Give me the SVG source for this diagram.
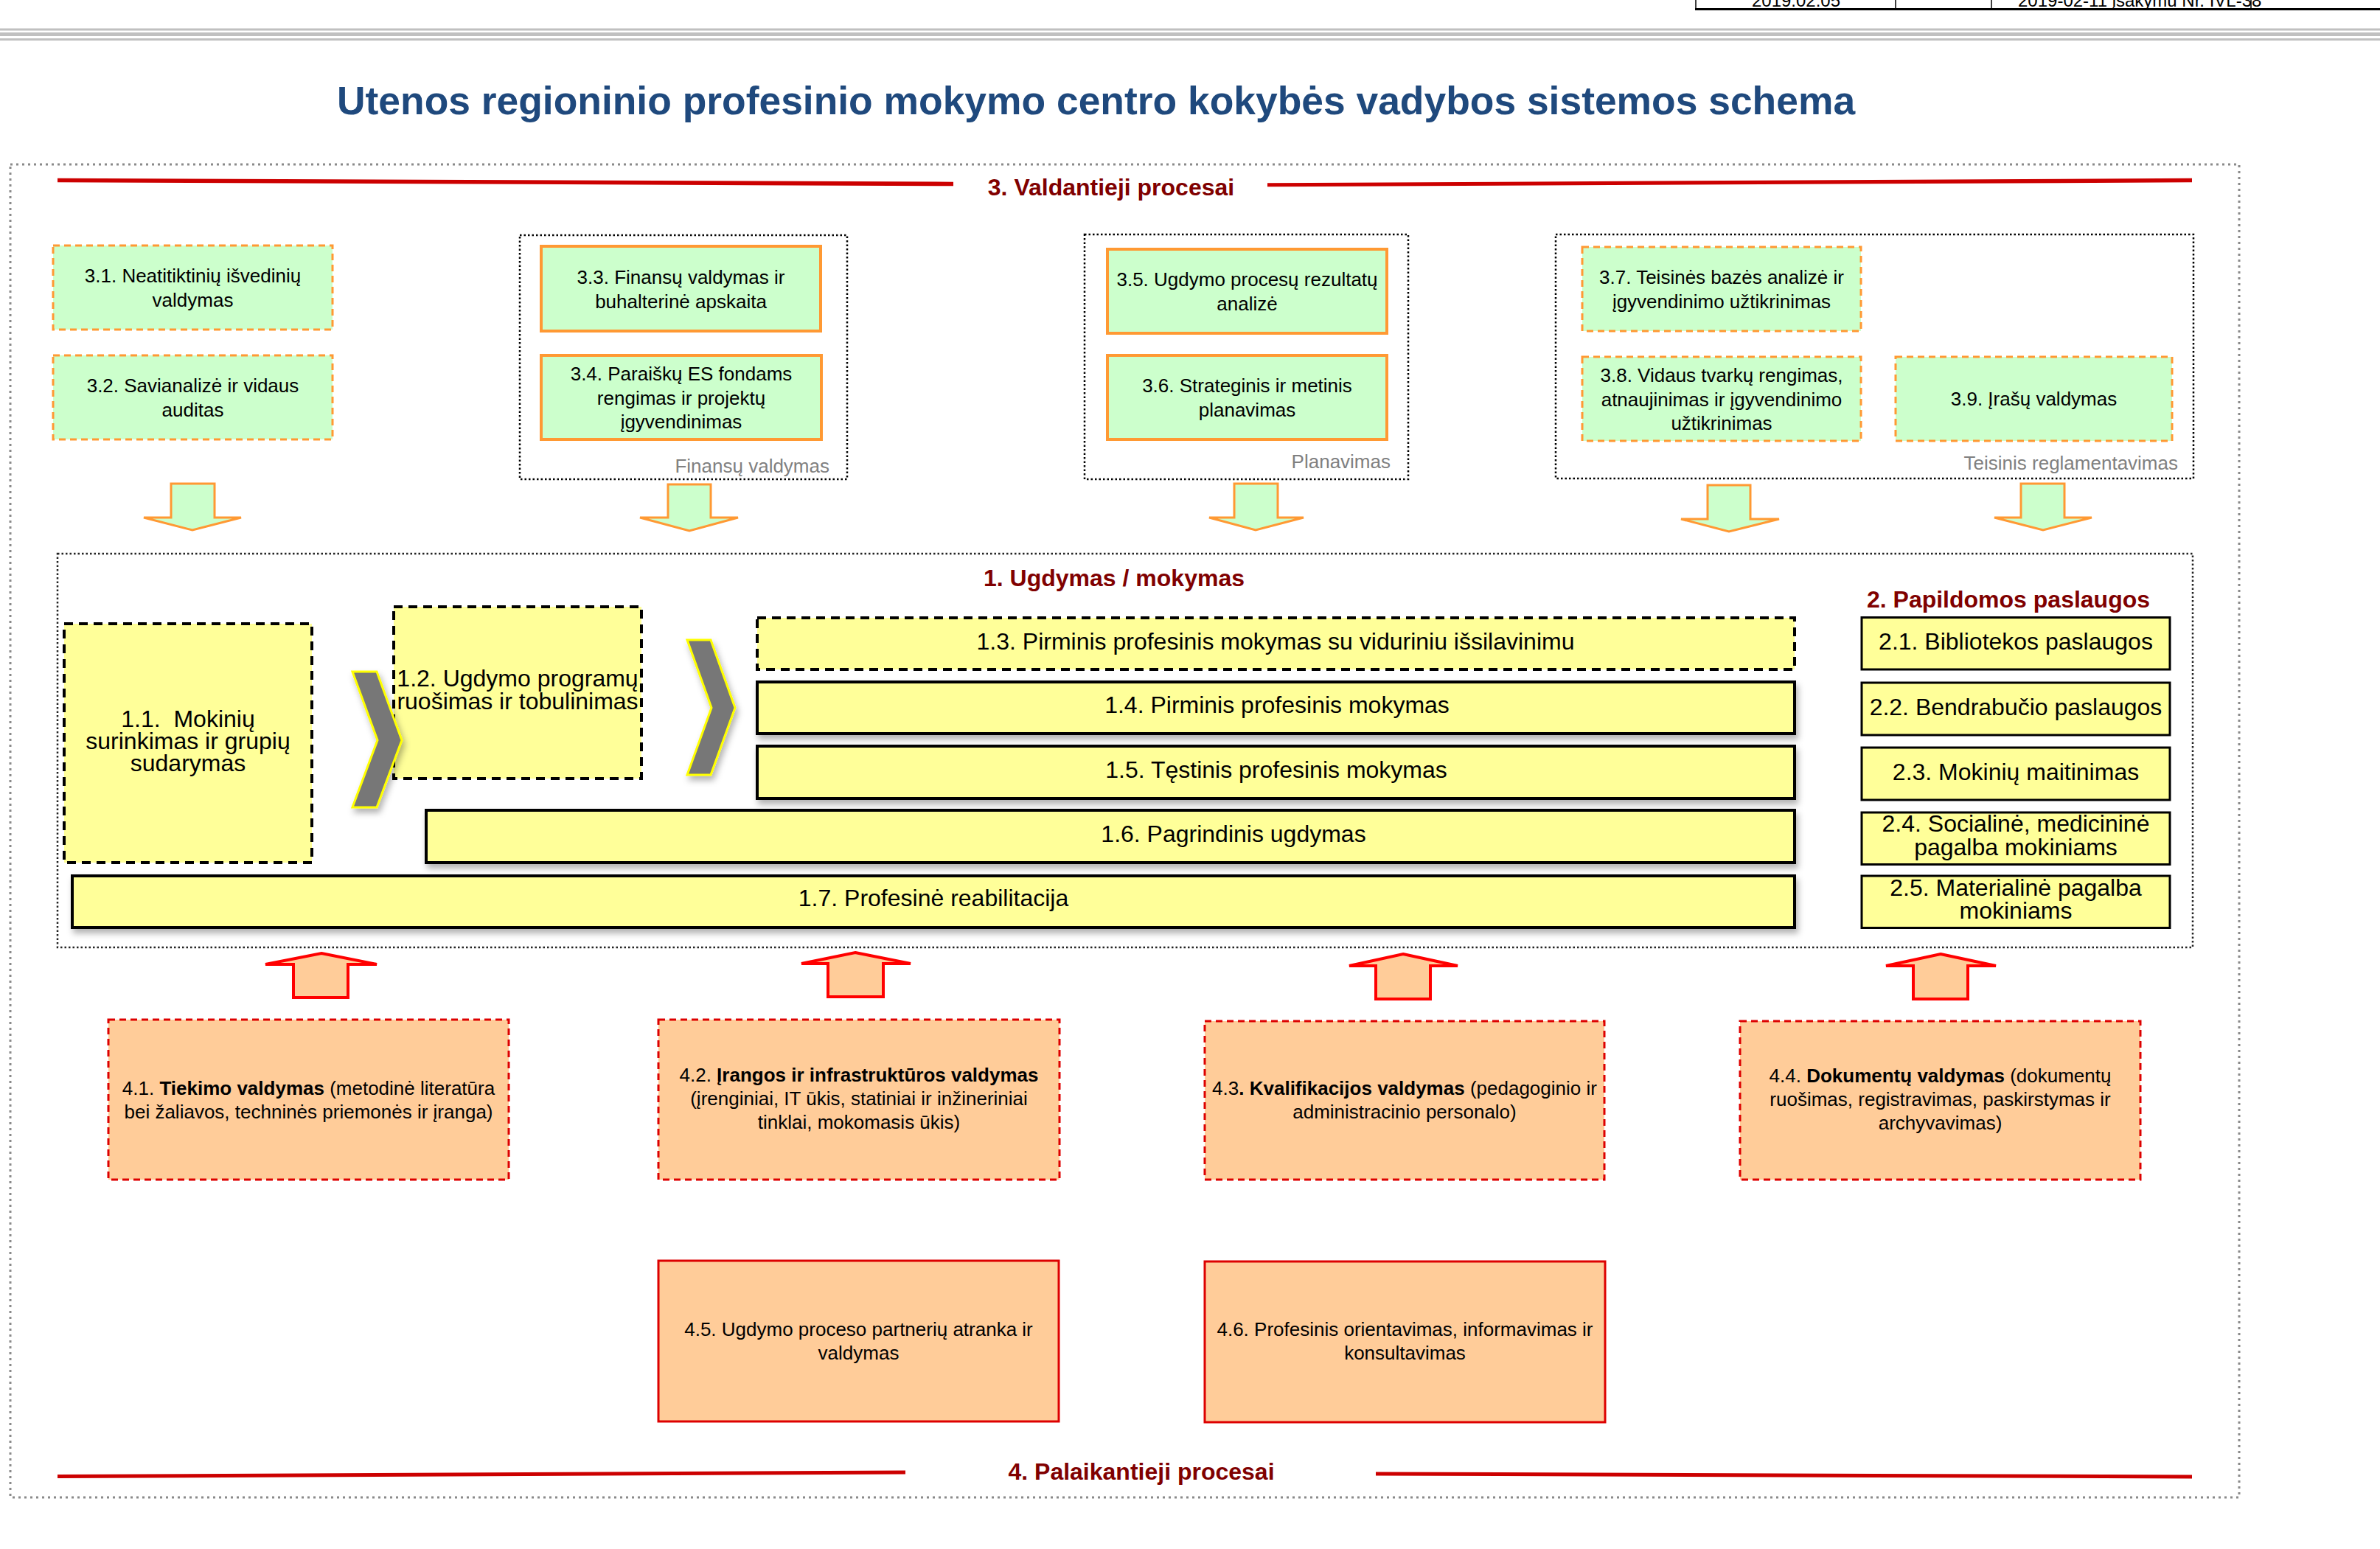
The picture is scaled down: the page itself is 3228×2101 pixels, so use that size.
<svg xmlns="http://www.w3.org/2000/svg" width="3228" height="2101" viewBox="0 0 3228 2101">
<style>
text{font-family:"Liberation Sans",Arial,sans-serif;}
.t26{font-size:26px;fill:#000;text-anchor:middle;}
.t32{font-size:32px;fill:#000;text-anchor:middle;}
.hdr{font-size:32px;font-weight:bold;fill:#800000;text-anchor:middle;}
.glabel{font-size:26px;fill:#808080;text-anchor:end;}
.b{font-weight:bold;}
.gdash{fill:#ccffcc;stroke:#ff9933;stroke-width:3;stroke-dasharray:9 6;}
.gsolid{fill:#ccffcc;stroke:#ff9933;stroke-width:4;}
.grp{fill:none;stroke:#000;stroke-width:2.5;stroke-dasharray:2.5 3;}
.ydash{fill:#ffff99;stroke:#000;stroke-width:4;stroke-dasharray:12 8;}
.ysolid{fill:#ffff99;stroke:#000;stroke-width:4;}
.ysmall{fill:#ffff99;stroke:#000;stroke-width:3;}
.odash{fill:#ffcc99;stroke:#dd0000;stroke-width:3;stroke-dasharray:9 6;}
.osolid{fill:#ffcc99;stroke:#dd0000;stroke-width:3;}
.garrow{fill:#ccffcc;stroke:#ff9933;stroke-width:3;stroke-linejoin:miter;}
.rarrow{fill:#ffcc99;stroke:#ff0000;stroke-width:4;stroke-linejoin:miter;}
.chev{fill:#777777;stroke:#ffff00;stroke-width:3;}
.redline{fill:#cc0000;}
</style>
<defs>
<filter id="sh" x="-30%" y="-30%" width="160%" height="160%">
<feDropShadow dx="3" dy="6" stdDeviation="4" flood-color="#000" flood-opacity="0.3"/>
</filter>
</defs>
<rect width="3228" height="2101" fill="#ffffff"/>

<!-- header table fragment -->
<g id="header-table">
<line x1="2300" y1="0" x2="2300" y2="12" stroke="#000" stroke-width="1.5"/>
<line x1="2571" y1="0" x2="2571" y2="12" stroke="#000" stroke-width="1.5"/>
<line x1="2701" y1="0" x2="2701" y2="12" stroke="#000" stroke-width="1.5"/>
<line x1="3053" y1="0" x2="3053" y2="12" stroke="#000" stroke-width="1.5"/>
<line x1="2299" y1="12.5" x2="3228" y2="12.5" stroke="#000" stroke-width="3"/>
<text x="2436" y="9" style="font-size:24px;text-anchor:middle">2019.02.05</text>
<text x="2737" y="9" style="font-size:24px">2019-02-11 įsakymu Nr. IVL-38</text>
</g>
<g id="header-rules">
<rect x="0" y="38.5" width="3228" height="3" fill="#c0c0c0"/>
<rect x="0" y="44" width="3228" height="5" fill="#c0c0c0"/>
<rect x="0" y="52" width="3228" height="3" fill="#c0c0c0"/>
</g>

<text id="title" x="457" y="155" style="font-size:53.4px;font-weight:bold;fill:#1f497d">Utenos regioninio profesinio mokymo centro kokybės vadybos sistemos schema</text>

<!-- outer frame -->
<rect id="frame" x="14" y="223" width="3023" height="1808" fill="none" stroke="#8a8a8a" stroke-width="3" stroke-dasharray="3 5"/>

<!-- section 3 header -->
<g id="sec3-header">
<polygon class="redline" points="78,241.7 1293,246.7 1293,252.3 78,247.3"/>
<polygon class="redline" points="1719,248.3 2973,241.7 2973,247.3 1719,253.3"/>
<text class="hdr" x="1507" y="265">3. Valdantieji procesai</text>
</g>

<!-- group boxes -->
<g id="grp-finansu">
<rect class="grp" x="705" y="319" width="444" height="331"/>
<text class="glabel" x="1125" y="641">Finansų valdymas</text>
</g>
<g id="grp-planavimas">
<rect class="grp" x="1471" y="318" width="439" height="332"/>
<text class="glabel" x="1886" y="635">Planavimas</text>
</g>
<g id="grp-teisinis">
<rect class="grp" x="2110" y="318" width="865" height="331"/>
<text class="glabel" x="2954" y="637">Teisinis reglamentavimas</text>
</g>

<g id="n3-1"><rect class="gdash" x="72" y="333" width="379" height="114"/>
<text class="t26" x="261.5" y="383">3.1. Neatitiktinių išvedinių<tspan x="261.5" dy="32.5">valdymas</tspan></text></g>
<g id="n3-2"><rect class="gdash" x="72" y="482" width="379" height="114"/>
<text class="t26" x="261.5" y="532">3.2. Savianalizė ir vidaus<tspan x="261.5" dy="32.5">auditas</tspan></text></g>
<g id="n3-3"><rect class="gsolid" x="734" y="334" width="379" height="115"/>
<text class="t26" x="923.5" y="385">3.3. Finansų valdymas ir<tspan x="923.5" dy="32.5">buhalterinė apskaita</tspan></text></g>
<g id="n3-4"><rect class="gsolid" x="734" y="482" width="380" height="114"/>
<text class="t26" x="924" y="516">3.4. Paraiškų ES fondams<tspan x="924" dy="32.5">rengimas ir projektų</tspan><tspan x="924" dy="32.5">įgyvendinimas</tspan></text></g>
<g id="n3-5"><rect class="gsolid" x="1502" y="338" width="379" height="114"/>
<text class="t26" x="1691.5" y="388">3.5. Ugdymo procesų rezultatų<tspan x="1691.5" dy="32.5">analizė</tspan></text></g>
<g id="n3-6"><rect class="gsolid" x="1502" y="482" width="379" height="114"/>
<text class="t26" x="1691.5" y="532">3.6. Strateginis ir metinis<tspan x="1691.5" dy="32.5">planavimas</tspan></text></g>
<g id="n3-7"><rect class="gdash" x="2146" y="335" width="378" height="114"/>
<text class="t26" x="2335" y="385">3.7. Teisinės bazės analizė ir<tspan x="2335" dy="32.5">įgyvendinimo užtikrinimas</tspan></text></g>
<g id="n3-8"><rect class="gdash" x="2146" y="484" width="378" height="114"/>
<text class="t26" x="2335" y="518">3.8. Vidaus tvarkų rengimas,<tspan x="2335" dy="32.5">atnaujinimas ir įgyvendinimo</tspan><tspan x="2335" dy="32.5">užtikrinimas</tspan></text></g>
<g id="n3-9"><rect class="gdash" x="2571" y="484" width="375" height="114"/>
<text class="t26" x="2758.5" y="550">3.9. Įrašų valdymas</text></g>

<!-- section 1 / 2 frame -->
<g id="grp-ugdymas">
<rect x="78" y="751" width="2896" height="534" fill="none" stroke="#222" stroke-width="2.5" stroke-dasharray="2.5 3"/>
<text class="hdr" x="1511" y="795">1. Ugdymas / mokymas</text>
<text class="hdr" x="2724" y="824">2. Papildomos paslaugos</text>
</g>

<g id="n1-1"><rect class="ydash" x="87" y="846" width="336" height="324"/>
<text class="t32" x="255" y="986" xml:space="preserve">1.1.  Mokinių<tspan x="255" dy="30">surinkimas ir grupių</tspan><tspan x="255" dy="30">sudarymas</tspan></text></g>
<g id="n1-2"><rect class="ydash" x="534" y="823" width="336" height="233"/>
<text class="t32" x="702" y="931">1.2. Ugdymo programų<tspan x="702" dy="30.5">ruošimas ir tobulinimas</tspan></text></g>
<g id="n1-3"><rect class="ydash" x="1027" y="838" width="1407" height="70"/>
<text class="t32" x="1730" y="881">1.3. Pirminis profesinis mokymas su viduriniu išsilavinimu</text></g>
<g id="n1-4"><rect class="ysolid" x="1027" y="925" width="1407" height="70" filter="url(#sh)"/>
<text class="t32" x="1732" y="967">1.4. Pirminis profesinis mokymas</text></g>
<g id="n1-5"><rect class="ysolid" x="1027" y="1012" width="1407" height="71" filter="url(#sh)"/>
<text class="t32" x="1731" y="1055">1.5. Tęstinis profesinis mokymas</text></g>
<g id="n1-6"><rect class="ysolid" x="578" y="1099" width="1856" height="71" filter="url(#sh)"/>
<text class="t32" x="1673" y="1142">1.6. Pagrindinis ugdymas</text></g>
<g id="n1-7"><rect class="ysolid" x="98" y="1188" width="2336" height="70" filter="url(#sh)"/>
<text class="t32" x="1266" y="1229">1.7. Profesinė reabilitacija</text></g>

<g id="n2-1"><rect class="ysmall" x="2525" y="837.5" width="418" height="70.5"/>
<text class="t32" x="2734" y="881">2.1. Bibliotekos paslaugos</text></g>
<g id="n2-2"><rect class="ysmall" x="2525" y="926" width="418" height="71"/>
<text class="t32" x="2734" y="970">2.2. Bendrabučio paslaugos</text></g>
<g id="n2-3"><rect class="ysmall" x="2525" y="1014" width="418" height="71"/>
<text class="t32" x="2734" y="1057.5">2.3. Mokinių maitinimas</text></g>
<g id="n2-4"><rect class="ysmall" x="2525" y="1102" width="418" height="70.5"/>
<text class="t32" x="2734" y="1128">2.4. Socialinė, medicininė<tspan x="2734" dy="31.5">pagalba mokiniams</tspan></text></g>
<g id="n2-5"><rect class="ysmall" x="2525" y="1188" width="418" height="70.5"/>
<text class="t32" x="2734" y="1214.5">2.5. Materialinė pagalba<tspan x="2734" dy="31">mokiniams</tspan></text></g>

<!-- section 4 -->
<g id="n4-1"><rect class="odash" x="147" y="1383" width="543" height="217"/>
<text class="t26" x="418.5" y="1485">4.1. <tspan class="b">Tiekimo valdymas</tspan> (metodinė literatūra<tspan x="418.5" dy="32">bei žaliavos, techninės priemonės ir įranga)</tspan></text></g>
<g id="n4-2"><rect class="odash" x="893" y="1383" width="544" height="217"/>
<text class="t26" x="1165" y="1467">4.2. <tspan class="b">Įrangos ir infrastruktūros valdymas</tspan><tspan x="1165" dy="32">(įrenginiai, IT ūkis, statiniai ir inžineriniai</tspan><tspan x="1165" dy="32">tinklai, mokomasis ūkis)</tspan></text></g>
<g id="n4-3"><rect class="odash" x="1634" y="1385" width="542" height="215"/>
<text class="t26" x="1905" y="1485">4.3<tspan class="b">. Kvalifikacijos valdymas</tspan> (pedagoginio ir<tspan x="1905" dy="32">administracinio personalo)</tspan></text></g>
<g id="n4-4"><rect class="odash" x="2360" y="1385" width="543" height="215"/>
<text class="t26" x="2631.5" y="1468">4.4. <tspan class="b">Dokumentų valdymas</tspan> (dokumentų<tspan x="2631.5" dy="32">ruošimas, registravimas, paskirstymas ir</tspan><tspan x="2631.5" dy="32">archyvavimas)</tspan></text></g>
<g id="n4-5"><rect class="osolid" x="893" y="1710" width="543" height="218"/>
<text class="t26" x="1164.5" y="1812">4.5. Ugdymo proceso partnerių atranka ir<tspan x="1164.5" dy="32">valdymas</tspan></text></g>
<g id="n4-6"><rect class="osolid" x="1634" y="1711" width="543" height="218"/>
<text class="t26" x="1905.5" y="1812">4.6. Profesinis orientavimas, informavimas ir<tspan x="1905.5" dy="32">konsultavimas</tspan></text></g>

<g id="sec4-header">
<polygon class="redline" points="78,2000 1228,1994.5 1228,1999.5 78,2005"/>
<polygon class="redline" points="1866,1996.5 2973,2000.5 2973,2005.5 1866,2001.5"/>
<text class="hdr" x="1548" y="2007">4. Palaikantieji procesai</text>
</g>

<!-- connectors -->
<g id="connectors">
<polygon class="garrow" points="232,656 291,656 291,702 327,702 261,719 195,702 232,702"/>
<polygon class="garrow" points="906,657 964,657 964,702 1001,702 935,720 868,702 906,702"/>
<polygon class="garrow" points="1674,656 1733,656 1733,702 1768,702 1703,719 1640,702 1674,702"/>
<polygon class="garrow" points="2316,658 2374,658 2374,704 2413,704 2345,721 2280,704 2316,704"/>
<polygon class="garrow" points="2741,656 2800,656 2800,702 2837,702 2771,719 2705,702 2741,702"/>
<polygon class="chev" filter="url(#sh)" points="478,911 511,911 545,1004 511,1095 478,1095 512,1004"/>
<polygon class="chev" filter="url(#sh)" points="932,868 964,868 997,960 964,1051 932,1051 965,960"/>
<polygon class="rarrow" points="436,1293 511,1308 472,1308 472,1353 398,1353 398,1308 360,1308"/>
<polygon class="rarrow" points="1160,1292 1235,1307 1198,1307 1198,1352 1123,1352 1123,1307 1087,1307"/>
<polygon class="rarrow" points="1903,1294 1977,1310 1940,1310 1940,1355 1866,1355 1866,1310 1830,1310"/>
<polygon class="rarrow" points="2632,1294 2707,1310 2669,1310 2669,1355 2595,1355 2595,1310 2558,1310"/>
</g>
</svg>
